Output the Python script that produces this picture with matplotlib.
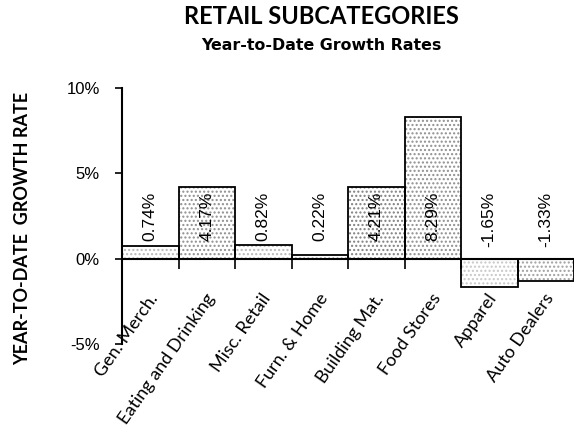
import matplotlib
matplotlib.use("Agg")
import matplotlib.pyplot as plt
import matplotlib.transforms as mtransforms
import numpy as np

categories = ["Gen. Merch.", "Eating and Drinking", "Misc. Retail", "Furn. & Home",
              "Building Mat.", "Food Stores", "Apparel", "Auto Dealers"]
growth = [0.74, 4.17, 0.82, 0.22, 4.21, 8.29, -1.65, -1.33]
ytick_vals = [-5, 0, 5, 10]
ytick_labels = ["-5%", "0%", "5%", "10%"]

# stipple shade per bar (scan look)
shades = ["#b8b8b8", "#8f8f8f", "#b8b8b8", "#a0a0a0", "#808080", "#8f8f8f", "#c8c8c8", "#a0a0a0"]

W, H = 574, 438
fig = plt.figure(figsize=(W / 100, H / 100), dpi=100)
ax = fig.add_axes([122 / W, 1 - 344 / H, 1 - 122 / W, (344 - 88) / H])

x = np.arange(len(categories))
for i in range(len(categories)):
    ax.bar(x[i], growth[i], width=1.0, color="white", edgecolor=shades[i],
           hatch="....", linewidth=0)
ax.bar(x, growth, width=1.0, color="none", edgecolor="black", linewidth=1.3)

ax.set_xlim(-0.5, 7.11)
ax.set_ylim(-5, 10)

for spine in ["top", "right"]:
    ax.spines[spine].set_visible(False)
ax.spines["bottom"].set_position(("data", 0))
ax.spines["bottom"].set_linewidth(1.5)
ax.spines["left"].set_linewidth(1.5)

ax.set_yticks(ytick_vals)
ax.set_yticklabels(ytick_labels, fontfamily="Liberation Sans", fontsize=12)
ax.tick_params(axis="y", direction="out", length=5, width=1.2, pad=11)

ax.set_xticks(x)
ax.set_xticklabels(categories, rotation=55, ha="right", va="top",
                   fontfamily="Lato", fontsize=13)
ax.tick_params(axis="x", which="major", length=0, pad=23)
shift = mtransforms.ScaledTranslation(11 / 100, 0, fig.dpi_scale_trans)
for lbl in ax.get_xticklabels():
    lbl.set_transform(lbl.get_transform() + shift)
ax.set_xticks(np.arange(-0.5, 8, 1.0), minor=True)
ax.tick_params(axis="x", which="minor", direction="out", length=7, width=1.2)

for xi, v in zip(x, growth):
    ax.text(xi, 3.93, f"{v:.2f}%", rotation=90, ha="center", va="top",
            fontfamily="Liberation Sans", fontsize=12.5)

fig.text(321 / W, 1 - 17 / H, "RETAIL SUBCATEGORIES", ha="center", va="center",
         fontfamily="Lato", fontweight="bold", fontsize=17)
fig.text(321 / W, 1 - 45 / H, "Year-to-Date Growth Rates", ha="center", va="center",
         fontfamily="DejaVu Sans", fontweight="bold", fontsize=11.4)
fig.text(23 / W, 1 - 228 / H, "YEAR-TO-DATE  GROWTH RATE", rotation=90,
         ha="center", va="center", fontfamily="Lato", fontweight="bold", fontsize=13)

fig.savefig("out.png", dpi=100)
